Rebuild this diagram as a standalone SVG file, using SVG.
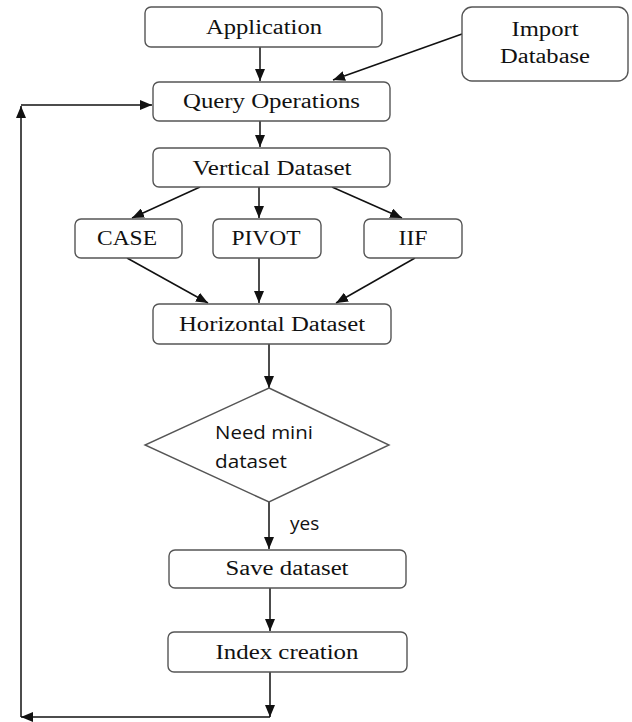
<svg xmlns="http://www.w3.org/2000/svg" width="632" height="722" viewBox="0 0 632 722">
<style>
.box{fill:#fff;stroke:#555;stroke-width:1.4}
.t{font-family:"Liberation Serif","Times New Roman",serif;font-size:20.5px;fill:#111;text-anchor:middle}
.s{font-family:"Open Sans","Liberation Sans",sans-serif;font-size:19px;fill:#111}
.c{fill:none;stroke:#111;stroke-width:1.5}
</style>
<defs>
<marker id="ah" markerUnits="userSpaceOnUse" markerWidth="13" markerHeight="10" refX="12" refY="5" orient="auto">
<path d="M0,0 L12,5 L0,10 z" fill="#111"/>
</marker>
</defs>
<rect width="632" height="722" fill="#fff"/>
<g id="connectors">
<line class="c" x1="260" y1="47" x2="260" y2="81" marker-end="url(#ah)"/>
<line class="c" x1="462" y1="34" x2="333" y2="80" marker-end="url(#ah)"/>
<line class="c" x1="260" y1="121" x2="260" y2="147" marker-end="url(#ah)"/>
<line class="c" x1="200" y1="187" x2="132" y2="218" marker-end="url(#ah)"/>
<line class="c" x1="259" y1="187" x2="259" y2="218" marker-end="url(#ah)"/>
<line class="c" x1="332" y1="187" x2="402" y2="218" marker-end="url(#ah)"/>
<line class="c" x1="127" y1="258" x2="208" y2="303" marker-end="url(#ah)"/>
<line class="c" x1="259" y1="258" x2="259" y2="303" marker-end="url(#ah)"/>
<line class="c" x1="415" y1="258" x2="336" y2="303" marker-end="url(#ah)"/>
<line class="c" x1="269" y1="344" x2="269" y2="388" marker-end="url(#ah)"/>
<line class="c" x1="269" y1="502" x2="269" y2="549" marker-end="url(#ah)"/>
<line class="c" x1="270" y1="588" x2="270" y2="631" marker-end="url(#ah)"/>
<line class="c" x1="270" y1="672" x2="270" y2="717" marker-end="url(#ah)"/>
<line class="c" x1="270" y1="717" x2="21" y2="717" marker-end="url(#ah)"/>
<line class="c" x1="21" y1="717" x2="21" y2="106" marker-end="url(#ah)"/>
<line class="c" x1="21" y1="105" x2="152" y2="105" marker-end="url(#ah)"/>
<text class="s" x="290" y="530">yes</text>
</g>
<g id="application">
<rect class="box" x="145" y="7" width="237" height="40" rx="6"/>
<text class="t" x="264" y="34" textLength="116" lengthAdjust="spacingAndGlyphs">Application</text>
</g>
<g id="import-database">
<rect class="box" x="462" y="7" width="166" height="74" rx="10"/>
<text class="t" x="545" y="36" textLength="67" lengthAdjust="spacingAndGlyphs">Import</text>
<text class="t" x="545" y="63" textLength="90" lengthAdjust="spacingAndGlyphs">Database</text>
</g>
<g id="query-operations">
<rect class="box" x="153" y="82" width="237" height="39" rx="6"/>
<text class="t" x="271.5" y="108" textLength="177" lengthAdjust="spacingAndGlyphs">Query Operations</text>
</g>
<g id="vertical-dataset">
<rect class="box" x="153" y="148" width="237" height="39" rx="6"/>
<text class="t" x="272" y="175" textLength="159" lengthAdjust="spacingAndGlyphs">Vertical Dataset</text>
</g>
<g id="case">
<rect class="box" x="75" y="219" width="107" height="39" rx="6"/>
<text class="t" x="127" y="245" textLength="60" lengthAdjust="spacingAndGlyphs">CASE</text>
</g>
<g id="pivot">
<rect class="box" x="213" y="219" width="108" height="39" rx="6"/>
<text class="t" x="266" y="245" textLength="69" lengthAdjust="spacingAndGlyphs">PIVOT</text>
</g>
<g id="iif">
<rect class="box" x="364" y="219" width="98" height="39" rx="6"/>
<text class="t" x="413" y="245" textLength="29" lengthAdjust="spacingAndGlyphs">IIF</text>
</g>
<g id="horizontal-dataset">
<rect class="box" x="153" y="304" width="238" height="40" rx="6"/>
<text class="t" x="272" y="331" textLength="186" lengthAdjust="spacingAndGlyphs">Horizontal Dataset</text>
</g>
<g id="need-mini-dataset">
<polygon class="box" points="269,388 389,445 269,502 145,445"/>
<text class="s" x="215" y="439" textLength="98" lengthAdjust="spacingAndGlyphs">Need mini</text>
<text class="s" x="215" y="468" textLength="72" lengthAdjust="spacingAndGlyphs">dataset</text>
</g>
<g id="save-dataset">
<rect class="box" x="169" y="550" width="237" height="38" rx="6"/>
<text class="t" x="287" y="575" textLength="123" lengthAdjust="spacingAndGlyphs">Save dataset</text>
</g>
<g id="index-creation">
<rect class="box" x="168" y="632" width="239" height="40" rx="6"/>
<text class="t" x="287" y="659" textLength="143" lengthAdjust="spacingAndGlyphs">Index creation</text>
</g>
</svg>
